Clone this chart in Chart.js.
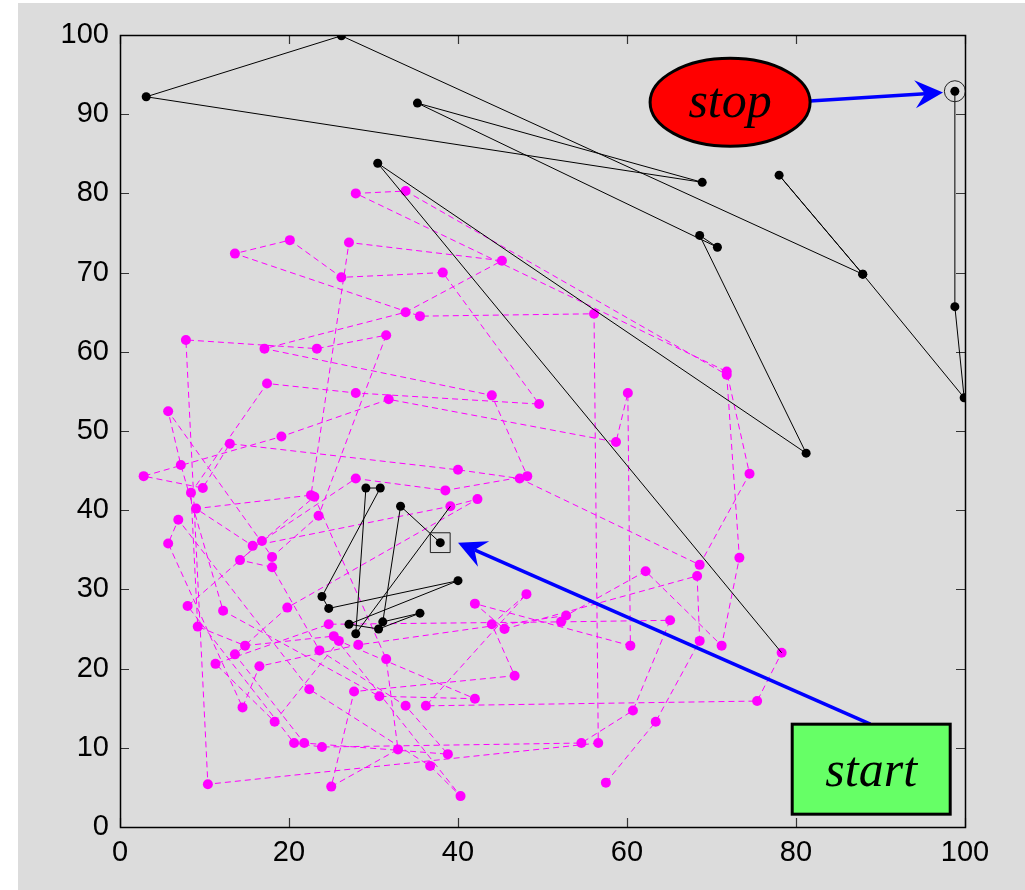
<!DOCTYPE html>
<html>
<head>
<meta charset="utf-8">
<title>Random walk: start / stop</title>
<script src="https://cdn.jsdelivr.net/npm/chart.js@4"></script>
<style>
  html, body { margin: 0; padding: 0; background: #ffffff; }
  #wrap { position: absolute; left: 0; top: 0; width: 1025px; height: 890px; }
  canvas { display: block; }
</style>
</head>
<body>
<div id="wrap"><canvas id="c" width="1025" height="890"></canvas></div>
<script>
// Background walk (magenta, dashed), in visiting order
const walkX = [
  57.5, 63.4, 68.6, 68.3, 45.5, 42.0, 60.4, 60.1, 58.7, 31.8,
  19.1,  2.8,  9.8, 13.0, 40.0, 47.3, 68.6, 74.5, 71.8, 27.9,
  33.8, 71.8, 73.3, 71.2, 62.2, 52.8, 28.2, 16.5, 14.5,  5.7,
   6.9, 22.4, 36.7, 40.3, 25.3, 14.8,  9.2,  8.4, 17.4, 27.9,
  49.6, 38.2, 26.2, 20.1, 13.6, 35.5, 56.1, 56.6, 10.4,  7.8,
  23.3, 31.5, 23.5, 18.0,  5.7,  7.2, 12.2, 30.7, 42.0, 25.9,
  18.3, 11.3, 24.7, 52.2, 65.1, 60.7, 54.6, 23.9, 20.6,  8.0,
  16.8, 27.9, 38.5, 48.2, 44.0, 17.1, 33.8, 45.2, 27.1, 22.6,
   9.0, 15.7, 39.1, 42.3, 19.8, 13.6, 21.8, 38.8, 33.8, 23.6,
  18.0, 14.2, 23.0, 31.5, 32.9, 25.0, 27.7, 46.7, 44.0, 48.1,
  36.2, 75.4, 78.3
];
const walkY = [
   5.6, 13.3, 23.5, 31.7, 25.0, 28.2, 22.9, 54.8, 48.6, 54.0,
  49.3, 44.3, 42.8, 48.4, 45.1, 44.0, 33.1, 44.6, 57.5, 80.0,
  80.3, 57.1, 34.0, 22.9, 32.3, 26.7, 23.0, 20.3, 15.1, 35.8,
  38.8, 17.4,  7.7,  3.9, 24.1, 22.9, 25.3, 42.2, 56.0, 54.8,
  53.4, 70.0, 69.4, 74.1, 72.4, 64.5, 64.8, 10.6,  5.4, 61.5,
  60.4, 62.1, 39.3, 34.1, 52.5, 45.7, 27.3, 16.5, 16.2, 23.5,
  13.3, 20.6, 25.6, 25.9, 26.1, 14.7, 10.6, 10.1, 10.6, 27.9,
  36.1, 44.0, 42.5, 44.3, 54.5, 60.4, 65.0, 71.5, 73.8, 41.9,
  40.2, 35.5, 40.5, 41.4, 27.7, 21.8, 10.6,  9.2, 15.3, 22.3,
  32.8, 33.7, 41.7, 21.2,  9.8,  5.1, 17.1, 19.1, 25.6, 29.4,
  15.3, 15.9, 22.0
];

// Tracked path (black, solid); null marks a break in the line
const pathX = [
  37.9, 33.2, 31.1, 35.5, 30.6, 27.1, 40.0, 24.7, 23.9, 30.8,
  29.1, 27.9, 39.1, null,
  78.3, 30.5, 81.2, 68.6, 70.7, 35.2, 68.9,  3.1, 26.2, 87.9,
  78.0, 87.9, 99.9, 98.8, 98.8
];
const pathY = [
  35.9, 40.5, 25.9, 27.0, 25.0, 25.6, 31.1, 27.6, 29.1, 42.8,
  42.8, 24.4, 40.5, null,
  22.0, 83.8, 47.2, 74.7, 73.2, 91.4, 81.4, 92.2, 99.9, 69.8,
  82.3, 69.8, 54.2, 65.7, 92.9
];
// Path vertices that sit on a walk point show the walk's dot instead
const sharedVertex = [12, 14];

const xTicks = [0, 20, 40, 60, 80, 100];
const yTicks = [0, 10, 20, 30, 40, 50, 60, 70, 80, 90, 100];

// Callout anchors (data units)
const stopBadge  = { x: 72.2, y: 91.5, rx: 80, ry: 44, text: 'stop' };
const stopArrow  = { from: [81.66, 91.67], to: [97.4, 92.74] };
const startBadge = { x: 88.9, y: 7.3, w: 158, h: 90, text: 'start' };
const startArrow = { from: [88.8, 13.0], to: [40.0, 35.9] };

const toPoints = (xs, ys) => xs.map((x, i) => (x === null ? { x: null, y: null } : { x: x, y: ys[i] }));
const firstPt = { x: pathX[0], y: pathY[0] };
const lastPt = { x: pathX[pathX.length - 1], y: pathY[pathY.length - 1] };
const pathRadius = pathX.map((_, i) => (sharedVertex.includes(i) ? 0 : 4.5));

const PANEL = '#dcdcdc';
const tickFont = { family: '"Liberation Sans", Arial, sans-serif', size: 29 };

const backdrop = {
  id: 'backdrop',
  beforeDraw(chart) {
    const c = chart.ctx;
    c.save();
    c.fillStyle = '#ffffff';
    c.fillRect(0, 0, chart.width, chart.height);
    c.fillStyle = PANEL;
    c.fillRect(18, 3, chart.width - 18, chart.height - 3);
    c.restore();
  }
};

const frame = {
  id: 'frame',
  beforeDatasetsDraw(chart) {
    const { ctx: c, chartArea: a, scales: { x, y } } = chart;
    c.save();
    c.strokeStyle = '#333333';
    c.lineWidth = 1.2;
    const len = 9;
    xTicks.forEach(v => {
      const px = Math.round(x.getPixelForValue(v)) + 0.5;
      c.beginPath();
      c.moveTo(px, a.bottom); c.lineTo(px, a.bottom - len);
      c.moveTo(px, a.top); c.lineTo(px, a.top + len);
      c.stroke();
    });
    yTicks.forEach(v => {
      const py = Math.round(y.getPixelForValue(v)) + 0.5;
      c.beginPath();
      c.moveTo(a.left, py); c.lineTo(a.left + len, py);
      c.moveTo(a.right, py); c.lineTo(a.right - len, py);
      c.stroke();
    });
    c.strokeStyle = '#000000';
    c.lineWidth = 1.5;
    c.strokeRect(Math.round(a.left) + 0.5, Math.round(a.top) + 0.5,
                 Math.round(a.right - a.left), Math.round(a.bottom - a.top));
    c.restore();
  }
};

function drawArrow(c, x0, y0, x1, y1) {
  const ang = Math.atan2(y1 - y0, x1 - x0);
  const dx = Math.cos(ang), dy = Math.sin(ang);
  const L = 28, W = 14, N = 18;
  c.beginPath();
  c.moveTo(x0, y0);
  c.lineTo(x1 - dx * N, y1 - dy * N);
  c.stroke();
  c.beginPath();
  c.moveTo(x1, y1);
  c.lineTo(x1 - dx * L - dy * W, y1 - dy * L + dx * W);
  c.lineTo(x1 - dx * N, y1 - dy * N);
  c.lineTo(x1 - dx * L + dy * W, y1 - dy * L - dx * W);
  c.closePath();
  c.fill();
}

const callouts = {
  id: 'callouts',
  afterDatasetsDraw(chart) {
    const { ctx: c, scales: { x, y } } = chart;
    const P = (p) => [x.getPixelForValue(p[0]), y.getPixelForValue(p[1])];
    c.save();
    // arrows
    c.strokeStyle = '#0000ff';
    c.fillStyle = '#0000ff';
    c.lineWidth = 3.5;
    let a = P(stopArrow.from), b = P(stopArrow.to);
    drawArrow(c, a[0], a[1], b[0], b[1]);
    a = P(startArrow.from); b = P(startArrow.to);
    drawArrow(c, a[0], a[1], b[0], b[1]);

    // stop badge
    const sc = P([stopBadge.x, stopBadge.y]);
    c.beginPath();
    c.ellipse(sc[0], sc[1], stopBadge.rx, stopBadge.ry, 0, 0, Math.PI * 2);
    c.fillStyle = '#ff0000';
    c.fill();
    c.lineWidth = 3;
    c.strokeStyle = '#000000';
    c.stroke();
    c.fillStyle = '#000000';
    c.font = 'italic 50px "Liberation Serif", "Times New Roman", serif';
    c.textAlign = 'center';
    c.textBaseline = 'alphabetic';
    c.fillText(stopBadge.text, sc[0], sc[1] + 15);

    // start badge
    const bc = P([startBadge.x, startBadge.y]);
    const bx = bc[0] - startBadge.w / 2, by = bc[1] - startBadge.h / 2;
    c.fillStyle = '#66ff66';
    c.fillRect(bx, by, startBadge.w, startBadge.h);
    c.lineWidth = 3;
    c.strokeStyle = '#000000';
    c.strokeRect(bx, by, startBadge.w, startBadge.h);
    c.fillStyle = '#000000';
    c.fillText(startBadge.text, bc[0], bc[1] + 17);
    c.restore();
  }
};

new Chart(document.getElementById('c'), {
  type: 'scatter',
  data: {
    datasets: [
      {
        label: 'start',
        data: [firstPt],
        pointStyle: 'rect',
        pointRadius: 14,
        pointBackgroundColor: 'rgba(0,0,0,0)',
        pointBorderColor: '#222222',
        pointBorderWidth: 1,
        showLine: false,
        order: 0
      },
      {
        label: 'stop',
        data: [lastPt],
        pointStyle: 'circle',
        pointRadius: 10.5,
        pointBackgroundColor: 'rgba(0,0,0,0)',
        pointBorderColor: '#222222',
        pointBorderWidth: 1,
        showLine: false,
        order: 0
      },
      {
        label: 'path',
        data: toPoints(pathX, pathY),
        showLine: true,
        spanGaps: false,
        borderColor: '#000000',
        borderWidth: 1,
        tension: 0,
        pointRadius: pathRadius,
        pointBackgroundColor: '#000000',
        pointBorderColor: '#000000',
        pointBorderWidth: 0,
        order: 1
      },
      {
        label: 'walk',
        data: toPoints(walkX, walkY),
        showLine: true,
        borderColor: '#ff00ff',
        borderWidth: 1,
        borderDash: [6, 4],
        tension: 0,
        pointRadius: 5,
        pointBackgroundColor: '#ff00ff',
        pointBorderColor: '#ff00ff',
        pointBorderWidth: 0,
        order: 2
      }
    ]
  },
  options: {
    responsive: false,
    animation: false,
    events: [],
    layout: { padding: { top: 35, right: 60, bottom: 0, left: 0 } },
    plugins: { legend: { display: false }, tooltip: { enabled: false } },
    scales: {
      x: {
        type: 'linear', min: 0, max: 100,
        afterBuildTicks(s) { s.ticks = xTicks.map(v => ({ value: v })); },
        ticks: { font: tickFont, color: '#000000', padding: 9, maxRotation: 0 },
        grid: { display: false, drawTicks: false },
        border: { display: false },
        afterFit(s) { s.height = 63; }
      },
      y: {
        type: 'linear', min: 0, max: 100,
        afterBuildTicks(s) { s.ticks = yTicks.map(v => ({ value: v })); },
        ticks: { font: tickFont, color: '#000000', padding: 11 },
        grid: { display: false, drawTicks: false },
        border: { display: false },
        afterFit(s) { s.width = 120; }
      }
    }
  },
  plugins: [backdrop, frame, callouts]
});
</script>
</body>
</html>
